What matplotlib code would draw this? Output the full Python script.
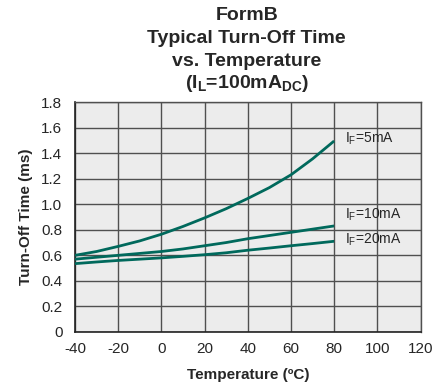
import matplotlib
matplotlib.use("Agg")
import matplotlib.pyplot as plt

plt.rcParams["font.family"] = ["Liberation Sans", "DejaVu Sans"]
plt.rcParams["mathtext.default"] = "regular"
plt.rcParams["axes.unicode_minus"] = False

# Temperature (C) and turn-off time (ms)
temp = [-40, -30, -20, -10, 0, 10, 20, 30, 40, 50, 60, 70, 80]
t_5ma = [0.60, 0.63, 0.67, 0.713, 0.765, 0.826, 0.893, 0.965, 1.045, 1.13, 1.23, 1.355, 1.495]
t_10ma = [0.57, 0.585, 0.60, 0.615, 0.63, 0.65, 0.675, 0.70, 0.73, 0.755, 0.78, 0.805, 0.83]
t_20ma = [0.535, 0.548, 0.56, 0.57, 0.58, 0.592, 0.605, 0.62, 0.64, 0.657, 0.675, 0.692, 0.71]
series_labels = ["5mA", "10mA", "20mA"]
x_ticks = [-40, -20, 0, 20, 40, 60, 80, 100, 120]
y_ticks = [0, 0.2, 0.4, 0.6, 0.8, 1.0, 1.2, 1.4, 1.6, 1.8]
y_ticklabels = ["0", "0.2", "0.4", "0.6", "0.8", "1.0", "1.2", "1.4", "1.6", "1.8"]

# where the curve labels sit (layout, not data)
label_x = 85
label_y = [1.51, 0.915, 0.72]

line_color = "#00695c"
grid_color = "#505050"
text_color = "#262626"

fig = plt.figure(figsize=(4.32, 3.85), dpi=100)
ax = fig.add_axes([0.1736, 0.1377, 0.7998, 0.5973])
ax.set_facecolor("#ececec")

for series, label, ly in zip([t_5ma, t_10ma, t_20ma], series_labels, label_y):
    ax.plot(temp, series, color=line_color, lw=2.0, solid_capstyle="butt",
            solid_joinstyle="round", zorder=3)
    ax.text(label_x, ly, r"I$_{F}$=" + label,
            fontsize=10, color=text_color, va="center", ha="left")

ax.set_xlim(-40, 120)
ax.set_ylim(0, 1.8)
ax.set_xticks(x_ticks)
ax.set_yticks(y_ticks)
ax.set_yticklabels(y_ticklabels)
ax.tick_params(length=0, labelsize=11, labelcolor=text_color)
ax.tick_params(axis="y", pad=9)
ax.tick_params(axis="x", pad=7)
ax.grid(True, color=grid_color, lw=1.0)
ax.set_axisbelow(True)
for side in ["top", "right"]:
    ax.spines[side].set_color(grid_color)
    ax.spines[side].set_linewidth(1.0)
for side in ["left", "bottom"]:
    ax.spines[side].set_color("#222222")
    ax.spines[side].set_linewidth(1.2)

ax.set_xlabel("Temperature (ºC)", fontsize=11, fontweight="bold", color=text_color, labelpad=9)
ax.set_ylabel("Turn-Off Time (ms)", fontsize=11, fontweight="bold", color=text_color, labelpad=6)

title_lines = ["FormB", "Typical Turn-Off Time", "vs. Temperature",
               r"(I$_{L}$=100mA$_{DC}$)"]
for i, line in enumerate(title_lines):
    fig.text(0.571, 1 - (16 + 22.5 * i) / 385, line, ha="center", va="center",
             fontsize=14, fontweight="bold", color=text_color)

fig.savefig("out.png", dpi=100)
